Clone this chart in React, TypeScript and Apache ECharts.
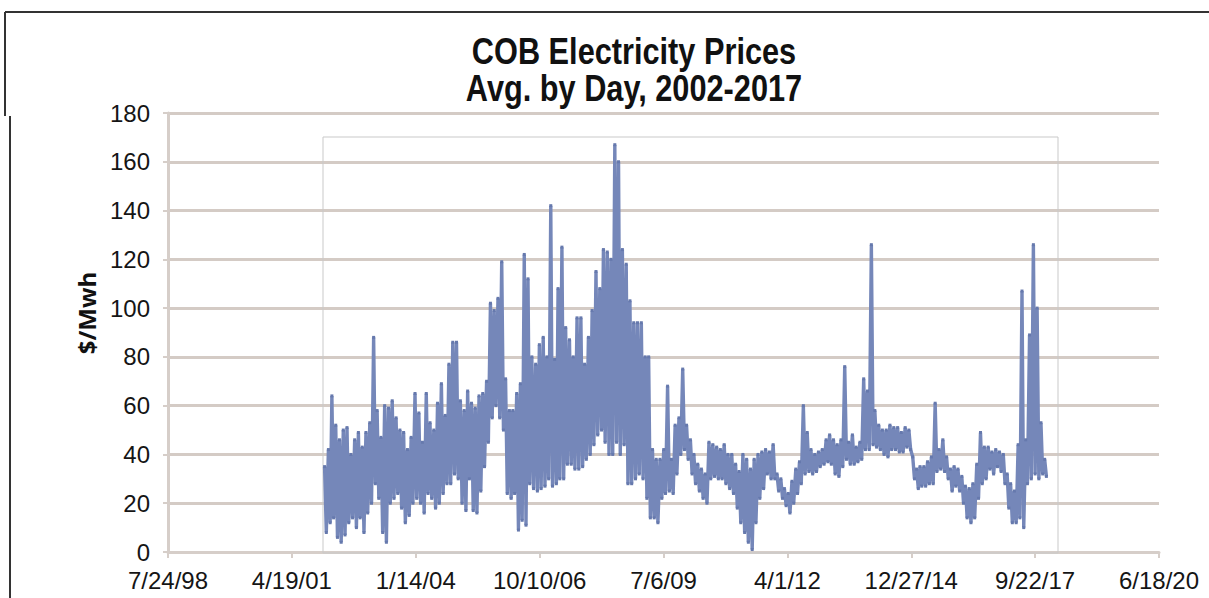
import React, { useEffect, useRef } from "react";
import * as echarts from "echarts";

// Monthly envelope: highest and lowest daily average per month ($/Mwh)
const years = [2002, 2003, 2004, 2005, 2006, 2007, 2008, 2009, 2010, 2011, 2012, 2013, 2014, 2015, 2016, 2017];

const highs = [
  [35, 42, 64, 52, 46, 50, 51, 40, 46, 49, 43, 49],
  [53, 88, 58, 47, 60, 59, 62, 55, 50, 49, 42, 47],
  [65, 57, 45, 65, 53, 50, 61, 69, 56, 77, 86, 86],
  [62, 58, 66, 61, 59, 64, 65, 70, 102, 99, 104, 119],
  [71, 58, 58, 65, 69, 122, 112, 80, 77, 85, 88, 80],
  [142, 79, 108, 125, 92, 87, 80, 96, 96, 77, 88, 99],
  [115, 108, 124, 123, 120, 167, 160, 124, 118, 103, 94, 94],
  [94, 80, 80, 42, 38, 38, 42, 68, 38, 52, 55, 75],
  [52, 46, 40, 36, 34, 32, 45, 44, 43, 42, 44, 40],
  [40, 36, 33, 40, 38, 34, 38, 40, 41, 42, 41, 44],
  [32, 30, 26, 24, 29, 34, 37, 60, 49, 42, 40, 41],
  [42, 46, 48, 46, 44, 46, 76, 45, 48, 43, 45, 71],
  [66, 126, 58, 52, 50, 50, 52, 51, 51, 49, 51, 50],
  [39, 34, 35, 35, 37, 39, 61, 42, 46, 39, 34, 35],
  [34, 31, 27, 26, 28, 36, 49, 43, 43, 41, 42, 41],
  [40, 32, 28, 25, 44, 107, 46, 89, 126, 100, 53, 38],
];

const lows = [
  [8, 12, 14, 6, 4, 7, 12, 14, 10, 14, 8, 16],
  [20, 28, 22, 8, 4, 20, 22, 24, 18, 12, 15, 20],
  [22, 20, 16, 24, 22, 18, 20, 24, 28, 28, 32, 30],
  [20, 17, 30, 17, 16, 25, 35, 45, 55, 60, 55, 50],
  [24, 22, 24, 9, 13, 11, 28, 26, 25, 26, 27, 30],
  [27, 28, 30, 30, 36, 36, 34, 34, 35, 38, 40, 44],
  [48, 50, 45, 40, 40, 45, 40, 44, 28, 28, 30, 32],
  [30, 22, 14, 14, 12, 22, 24, 25, 24, 32, 40, 42],
  [38, 32, 28, 25, 22, 20, 30, 31, 30, 30, 28, 26],
  [24, 18, 12, 8, 4, 1, 12, 22, 26, 32, 30, 30],
  [25, 22, 19, 16, 20, 24, 28, 32, 33, 32, 33, 35],
  [36, 37, 36, 32, 31, 35, 38, 36, 36, 37, 38, 42],
  [42, 44, 43, 42, 40, 39, 42, 42, 41, 41, 43, 42],
  [30, 26, 27, 27, 28, 28, 33, 34, 33, 30, 25, 27],
  [25, 20, 14, 12, 14, 22, 28, 30, 34, 32, 35, 33],
  [28, 18, 12, 12, 14, 10, 28, 30, 32, 30, 32, 31],
];

// X axis: days counted from the first tick label date (7/24/98), ticks every 1000 days
const axisStart = Date.UTC(1998, 6, 24);
const DAY = 86400000;
const xMin = 0;
const xMax = 8000;
const xStep = 1000;
const yMin = 0;
const yMax = 180;
const yStep = 20;

const titleLines = ["COB Electricity Prices", "Avg. by Day, 2002-2017"];
const yName = "$/Mwh";

function buildPoints(): [number, number][] {
  const pts: [number, number][] = [];
  years.forEach((y, i) => {
    for (let m = 0; m < 12; m++) {
      pts.push([(Date.UTC(y, m, 8) - axisStart) / DAY, highs[i][m]]);
      pts.push([(Date.UTC(y, m, 22) - axisStart) / DAY, lows[i][m]]);
    }
  });
  return pts;
}

function fmtDay(v: number): string {
  const d = new Date(axisStart + v * DAY);
  const yy = String(d.getUTCFullYear() % 100).padStart(2, "0");
  return `${d.getUTCMonth() + 1}/${d.getUTCDate()}/${yy}`;
}

const labelFont = "'Liberation Sans', Arial, sans-serif";
const nameFont = "'Open Sans', 'Liberation Sans', sans-serif";
const titleFont = "'Liberation Sans', Arial, sans-serif";
const axisColor = "#d6cec9";

export default function App() {
  const ref = useRef<HTMLDivElement>(null);
  useEffect(() => {
    if (!ref.current) return;
    const chart = echarts.init(ref.current, undefined, { renderer: "svg" });
    chart.setOption({
      animation: false,
      backgroundColor: "#ffffff",
      grid: { left: 168, right: 50, top: 113, bottom: 46, containLabel: false },
      xAxis: {
        type: "value",
        min: xMin,
        max: xMax,
        interval: xStep,
        axisLine: { show: true, lineStyle: { color: axisColor, width: 3 } },
        axisTick: { show: true, length: 6, lineStyle: { color: axisColor, width: 2 } },
        splitLine: { show: false },
        axisLabel: {
          formatter: fmtDay,
          fontSize: 24,
          lineHeight: 24,
          color: "#151515",
          fontFamily: labelFont,
          margin: 16,
        },
      },
      yAxis: {
        type: "value",
        min: yMin,
        max: yMax,
        interval: yStep,
        axisLine: { show: true, lineStyle: { color: axisColor, width: 3 } },
        axisTick: { show: true, length: 5, lineStyle: { color: axisColor, width: 2 } },
        splitLine: { show: true, lineStyle: { color: "#d4cbc5", width: 3 } },
        axisLabel: {
          fontSize: 24,
          lineHeight: 22,
          color: "#151515",
          fontFamily: labelFont,
          margin: 18,
        },
      },
      graphic: [
        { type: "line", z: 10, shape: { x1: 5, y1: 12, x2: 1209, y2: 12 }, style: { stroke: "#333", lineWidth: 2 } },
        { type: "line", z: 10, shape: { x1: 5, y1: 12, x2: 5, y2: 116 }, style: { stroke: "#333", lineWidth: 2 } },
        { type: "line", z: 10, shape: { x1: 10, y1: 116, x2: 10, y2: 598 }, style: { stroke: "#333", lineWidth: 2 } },
        {
          type: "rect",
          z: 1,
          shape: { x: 323, y: 137, width: 735, height: 416 },
          style: { fill: "none", stroke: "#c9c9c9", lineWidth: 1 },
        },
        {
          type: "text",
          x: 634,
          y: 51,
          scaleX: 0.83,
          style: {
            text: titleLines[0],
            font: `bold 37px ${titleFont}`,
            fill: "#111",
            textAlign: "center",
            textVerticalAlign: "middle",
          },
        },
        {
          type: "text",
          x: 634,
          y: 88,
          scaleX: 0.83,
          style: {
            text: titleLines[1],
            font: `bold 37px ${titleFont}`,
            fill: "#111",
            textAlign: "center",
            textVerticalAlign: "middle",
          },
        },
        {
          type: "text",
          x: 86,
          y: 313,
          rotation: Math.PI / 2,
          style: {
            text: yName,
            font: `bold 24px ${nameFont}`,
            fill: "#111",
            textAlign: "center",
            textVerticalAlign: "middle",
          },
        },
      ],
      series: [
        {
          type: "line",
          data: buildPoints(),
          z: 3,
          symbol: "rect",
          symbolSize: 3,
          showSymbol: true,
          itemStyle: { color: "#6679ad" },
          lineStyle: { color: "#7587b9", width: 3.4, join: "bevel" },
          emphasis: { disabled: true },
        },
      ],
    });
    return () => chart.dispose();
  }, []);
  return <div ref={ref} style={{ position: "absolute", left: 0, top: 0, width: 1209, height: 598 }} />;
}
